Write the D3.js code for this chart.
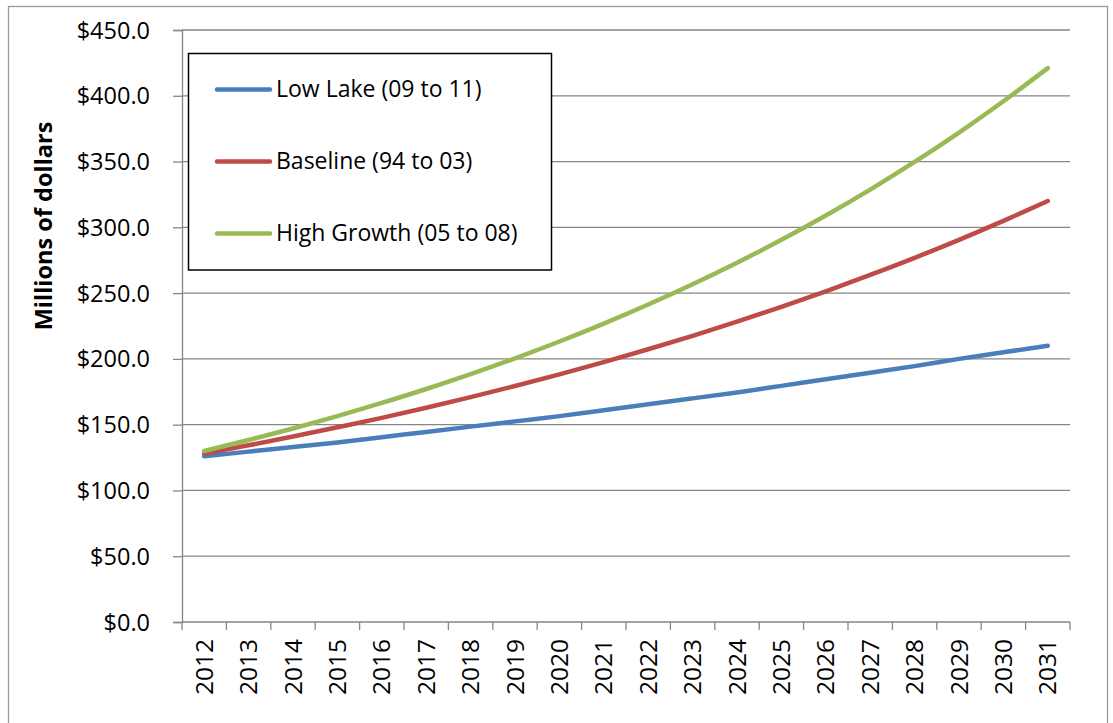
<!DOCTYPE html>
<html>
<head>
<meta charset="utf-8">
<script src="https://cdn.jsdelivr.net/npm/d3@7"></script>
<style>
  html, body { margin: 0; padding: 0; background: #fff; }
  svg { display: block; font-family: "Open Sans", sans-serif; }
</style>
</head>
<body>
<svg id="chart" width="1113" height="723"></svg>
<script>
const years = ["2012","2013","2014","2015","2016","2017","2018","2019","2020","2021",
               "2022","2023","2024","2025","2026","2027","2028","2029","2030","2031"];
const lowLake = [126, 129.5, 133, 136.5, 140.5, 144.5, 148.5, 152.5, 156.5, 161,
                 165.5, 170, 174.5, 179.5, 184.5, 189.5, 194.5, 200, 205, 210];
const baseline = [128, 134.3, 141, 148, 155.2, 162.9, 170.9, 179.4, 188.2, 197.5,
                  207.3, 217.5, 228.3, 239.6, 251.4, 263.8, 276.8, 290.5, 304.9, 320];
const highGrowth = [130, 138.3, 147.1, 156.5, 166.5, 177.1, 188.4, 200.4, 213.2, 226.8,
                    241.3, 256.7, 273.1, 290.5, 309.0, 328.7, 349.7, 372.0, 395.8, 421];
const seriesNames = ["Low Lake (09 to 11)", "Baseline (94 to 03)", "High Growth (05 to 08)"];
const seriesColors = ["#4A7EBB", "#BE4B48", "#98B954"];
const yTicks = [0, 50, 100, 150, 200, 250, 300, 350, 400, 450];
const yTitle = "Millions of dollars";

const svg = d3.select("#chart");
const plot = { left: 182, right: 1070, top: 30, bottom: 622 };

// outer frame
svg.append("rect").attr("x", 8.5).attr("y", 6.5).attr("width", 1099).attr("height", 730)
  .attr("fill", "none").attr("stroke", "#9a9a9a").attr("stroke-width", 1.3);

const x = d3.scaleBand().domain(years).range([plot.left, plot.right]).padding(0);
const y = d3.scaleLinear().domain([0, 450]).range([plot.bottom, plot.top]);

// gridlines
svg.append("g").selectAll("line").data(yTicks.filter(d => d > 0)).join("line")
  .attr("x1", plot.left).attr("x2", plot.right)
  .attr("y1", d => y(d)).attr("y2", d => y(d))
  .attr("stroke", "#868686").attr("stroke-width", 1.3);

// y axis
const yAxis = svg.append("g").attr("transform", `translate(${plot.left},0)`)
  .call(d3.axisLeft(y).tickValues(yTicks).tickSize(9).tickPadding(23)
        .tickFormat(d => "$" + d3.format(".1f")(d)));
yAxis.select(".domain").attr("stroke", "#868686").attr("stroke-width", 1.3);
yAxis.selectAll(".tick line").attr("stroke", "#868686").attr("stroke-width", 1.3);
yAxis.selectAll("text").attr("font-size", 23.5).attr("fill", "#000")
  .attr("font-family", "'Open Sans', sans-serif").attr("dy", "0.34em");

// x axis with ticks between categories
const xAxisG = svg.append("g").attr("transform", `translate(0,${plot.bottom})`);
xAxisG.append("line").attr("x1", plot.left).attr("x2", plot.right)
  .attr("y1", 0).attr("y2", 0).attr("stroke", "#868686").attr("stroke-width", 1.3);
const boundaries = years.map(d => x(d)).concat([x(years[years.length - 1]) + x.bandwidth()]);
xAxisG.selectAll("line.tk").data(boundaries).join("line").attr("class", "tk")
  .attr("x1", d => d).attr("x2", d => d).attr("y1", 0).attr("y2", 8)
  .attr("stroke", "#868686").attr("stroke-width", 1.3);
xAxisG.selectAll("text").data(years).join("text")
  .attr("transform", d => `translate(${x(d) + x.bandwidth() / 2 + 8.5},17) rotate(-90)`)
  .attr("text-anchor", "end").attr("font-size", 24.5).attr("fill", "#000")
  .text(d => d);

// y title
svg.append("text")
  .attr("transform", "translate(52,226) rotate(-90)")
  .attr("text-anchor", "middle").attr("font-size", 23.5).attr("font-weight", "bold")
  .text(yTitle);

// lines
const allSeries = [lowLake, baseline, highGrowth];
const line = d3.line().x((d, i) => x(years[i]) + x.bandwidth() / 2).y(d => y(d))
  .curve(d3.curveMonotoneX);
svg.append("g").selectAll("path").data(allSeries).join("path")
  .attr("d", d => line(d)).attr("fill", "none")
  .attr("stroke", (d, i) => seriesColors[i]).attr("stroke-width", 4.5)
  .attr("stroke-linecap", "round").attr("stroke-linejoin", "round");

// legend
const lg = svg.append("g");
lg.append("rect").attr("x", 188.5).attr("y", 53.5).attr("width", 363).attr("height", 216.5)
  .attr("fill", "#fff").attr("stroke", "#000").attr("stroke-width", 1.5);
const legendYs = [89.5, 161.5, 233.5];
seriesNames.forEach((name, i) => {
  lg.append("line").attr("x1", 217).attr("x2", 270).attr("y1", legendYs[i]).attr("y2", legendYs[i])
    .attr("stroke", seriesColors[i]).attr("stroke-width", 4.5).attr("stroke-linecap", "round");
  lg.append("text").attr("x", 276).attr("y", legendYs[i] + 7.5)
    .attr("font-size", 23).attr("fill", "#000").text(name);
});
</script>
</body>
</html>
